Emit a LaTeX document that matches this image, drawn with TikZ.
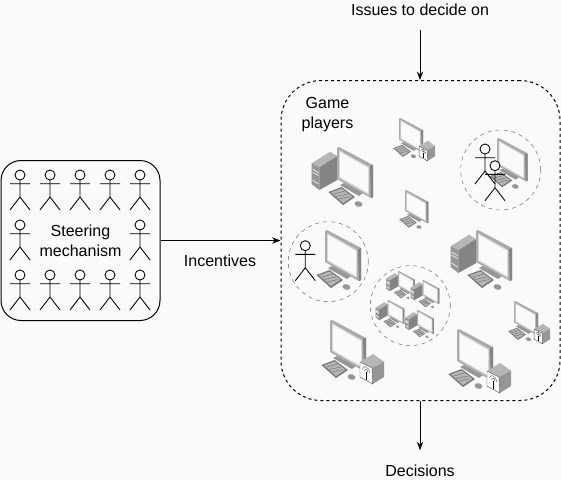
\documentclass[tikz,border=0pt]{standalone}
\usepackage{fontspec}
\setmainfont{Liberation Sans}
\usetikzlibrary{arrows.meta, positioning}
\definecolor{canvas}{RGB}{250,250,250}
\definecolor{pcframe}{RGB}{170,170,170}
\definecolor{pcside}{RGB}{132,132,132}
\definecolor{pcbezel}{RGB}{216,216,216}
\definecolor{pcscreen}{RGB}{250,250,250}
\definecolor{pckey}{RGB}{120,120,120}
\definecolor{pclight}{RGB}{182,182,182}
\definecolor{pcmid}{RGB}{150,150,150}
\tikzset{
  actorline/.style={draw=black, line width=0.65pt},
  caption/.style={font=\fontsize{12}{15}\selectfont, align=center, inner sep=0pt},
  endlabel/.style={caption, minimum height=30pt},
  pcscreenpic/.pic={
    % stand, keyboard and mouse
    \fill[pcmid] (3,38)--(7,36)--(26,46)--(22,49)--cycle;
    \fill[pckey] (-8.7,45)--(4.7,40)--(18,50)--(6,58)--cycle;
    \fill[pclight] (-6,45.3)--(4.7,41.5)--(15.5,49.7)--(6,56)--cycle;
    \draw[pckey, line width=0.4pt] (-3.5,47)--(8,44) (-1,49.5)--(11,47) (2,52)--(13,49.5);
    \fill[pcmid] (21.5,57) ellipse [x radius=4, y radius=2.7, rotate=-15];
    % monitor
    \fill[pcframe] (0,1)--(2,0)--(36,18)--(36,50)--(34,51)--(0,32)--cycle;
    \fill[pcside] (33,19)--(36,18)--(36,50)--(34,51)--cycle;
    \fill[pcbezel] (2,3)--(32,20)--(32,48)--(2,31)--cycle;
    \fill[pcscreen] (3,5)--(31,21)--(31,46)--(3,30)--cycle;
  },
  pctowerpic/.pic={
    \fill[pclight] (-25.3,16.3)--(-7,4.7)--(0.3,9)--(-17.7,20.3)--cycle;
    \fill[pcmid] (-25.3,16.3)--(-17.7,20.3)--(-17.7,43)--(-25.3,37)--cycle;
    \fill[pcside] (-17.7,20.3)--(0.3,9)--(0.3,33)--(-17.7,43)--cycle;
    \draw[pcbezel, line width=0.8pt] (-24.5,22)--(-18.5,25.5) (-24.5,25)--(-18.5,28.5) (-24.5,33)--(-18.5,37);
  },
  pccubepic/.pic={
    \fill[pclight] (30,42)--(43,34)--(54,41.7)--(42,48)--cycle;
    \fill[pcmid] (42,48)--(54,41.7)--(54,57)--(42.7,64)--cycle;
    \filldraw[fill=white, draw=black!70, line width=0.3pt] (30,42)--(42,48)--(42.7,64)--(30,57)--cycle;
    \draw[black!70, line width=0.3pt] (32.5,49) .. controls (34,44.5) and (38.5,46.5) .. (40,53)
      (34.5,50.5) .. controls (35.5,48) and (37.5,49) .. (38,52.5);
    \draw[black, line width=0.5pt] (36.3,51.5)--(36.3,60);
  },
  actor/.pic={
    \draw[actorline] (0,5)--(0,22) (-10,8.7)--(10,8.7) (-10,35)--(0,22)--(10,35);
    \filldraw[actorline, fill=white] (0,0) circle [radius=5];
  }
}

\begin{document}
\begin{tikzpicture}[x=0.75pt, y=-0.75pt, >=Stealth]
  \useasboundingbox[fill=canvas] (0,0) rectangle (561,480);

  \node[draw=black, line width=0.75pt, rounded corners=15pt, caption, minimum width=119.25pt, minimum height=120pt] (steering) at (80.5,240.5) {\raisebox{-0.4pt}{Steering}\\\raisebox{-0.4pt}{mechanism}};
  \node[draw=black, line width=0.75pt, dash pattern=on 2.25pt off 2.25pt, rounded corners=30pt, minimum width=209.25pt, minimum height=240pt] (players) at (420.5,240.5) {};
  \node[caption] (gamelabel) at (327.5,114.5) {Game\\players};
  \node[endlabel] (issues) at (420,10) {Issues to decide on};
  \node[endlabel] (decisions) at (420,470.5) {Decisions};
  \node[caption] (incentives) at (220,260.5) {Incentives};

  \draw[->, line width=0.75pt] (steering) -- (players);
  \draw[->, line width=0.75pt] (issues) -- (players.north -| issues);
  \draw[->, line width=0.75pt] (players.south -| decisions) -- (decisions);

  % steering group
  \foreach \xx in {20,50,80,110,140} {
    \pic (top\xx) at (\xx,175) {actor};
    \pic (low\xx) at (\xx,275) {actor};
  }
  \pic (midl) at (20,225) {actor};
  \pic (midr) at (140,225) {actor};

  % dashed circles
  \node[draw=black!55, dashed, circle, minimum size=60pt] (teamcircle) at (500.7,170) {};
  \node[draw=black!55, dashed, circle, minimum size=60pt] (solocircle) at (328.3,261.7) {};
  \node[draw=black!55, dashed, circle, minimum size=60pt] (lancircle) at (410.3,305.6) {};

  % players with tower
  \pic (pca) at (337,147) {pctowerpic};
  \pic (pca) at (337,147) {pcscreenpic};
  \pic (pcb) at (476,230) {pctowerpic};
  \pic (pcb) at (476,230) {pcscreenpic};

  % plain and with cube
  \pic (pcc) at (325,230) {pcscreenpic};
  \pic[scale=0.85] (pcd) at (497,138) {pcscreenpic};
  \pic[scale=0.65] (pce) at (405,190) {pcscreenpic};
  \pic[scale=0.67] (pcf) at (399,118) {pcscreenpic};
  \pic[scale=0.67] (pcf) at (399,118) {pccubepic};
  \pic[scale=0.67] (pcg) at (514,301) {pcscreenpic};
  \pic[scale=0.67] (pcg) at (514,301) {pccubepic};
  \pic (pch) at (330,320) {pcscreenpic};
  \pic (pch) at (330,320) {pccubepic};
  \pic (pci) at (457,329) {pcscreenpic};
  \pic (pci) at (457,329) {pccubepic};

  % small group
  \foreach \xx/\yy in {398/271, 422.5/280, 387.5/300, 417/310} {
    \pic[scale=0.47] (lan\xx) at (\xx,\yy) {pctowerpic};
    \pic[scale=0.47] (lan\xx) at (\xx,\yy) {pcscreenpic};
  }

  % actors on top of the icons
  \pic (teama) at (485,149) {actor};
  \pic (teamb) at (495,165.7) {actor};
  \pic (solo) at (305.3,245.7) {actor};
\end{tikzpicture}
\end{document}
